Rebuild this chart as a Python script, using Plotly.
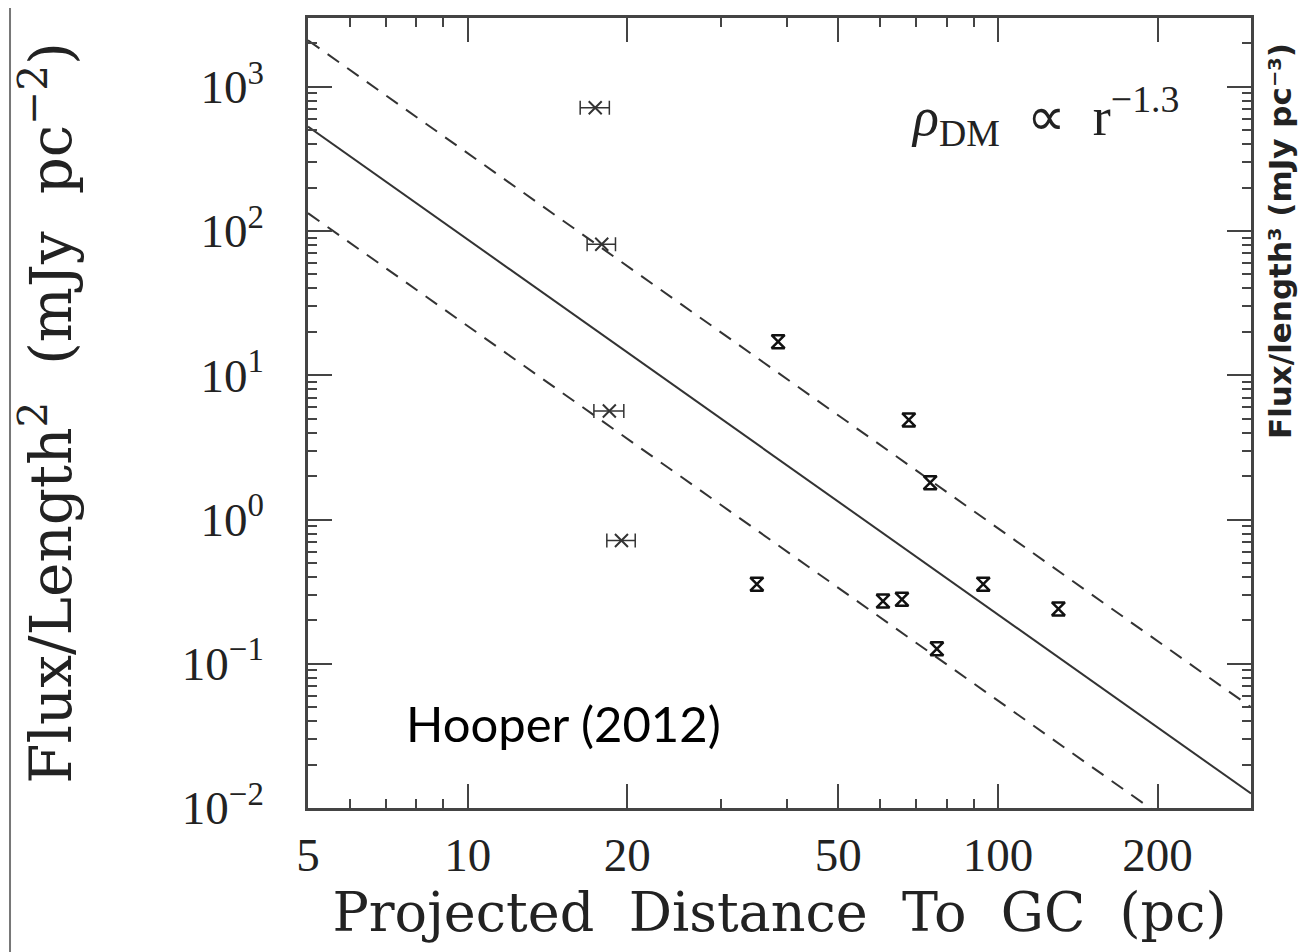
import plotly.graph_objects as go

# measured points, projected distance (pc) and flux/length^2 (mJy pc^-2)
wide_r = [17.4, 17.9, 18.5, 19.5]
wide_f = [716, 81, 5.65, 0.716]
wide_err = [1.1, 1.1, 1.2, 1.2]

narrow_r = [35.1, 38.5, 67.9, 74.5, 60.7, 65.9, 76.7, 93.8, 130]
narrow_f = [0.356, 17.1, 4.9, 1.80, 0.272, 0.28, 0.127, 0.356, 0.24]

# rho_DM ~ r^-1.3 fit line and the x4 / x0.25 band, read at the plot edges
fit_r = [5, 300]
fit_f = [530, 0.0126]
upper_f = [2100, 0.05]
lower_f = [133, 0.0032]

xtick_vals = [5, 10, 20, 50, 100, 200]
ytick_vals = [0.01, 0.1, 1, 10, 100, 1000]
ytick_text = ['10<sup>−2</sup>', '10<sup>−1</sup>', '10<sup>0</sup>',
              '10<sup>1</sup>', '10<sup>2</sup>', '10<sup>3</sup>']

ink = '#333333'
serif = 'Liberation Serif'

fig = go.Figure()
fig.add_trace(go.Scatter(x=fit_r, y=fit_f, mode='lines',
                         line=dict(color=ink, width=2)))
fig.add_trace(go.Scatter(x=fit_r, y=upper_f, mode='lines',
                         line=dict(color=ink, width=2, dash='14px,10px')))
fig.add_trace(go.Scatter(x=fit_r, y=lower_f, mode='lines',
                         line=dict(color=ink, width=2, dash='14px,10px')))
fig.add_trace(go.Scatter(
    x=wide_r, y=wide_f, mode='markers',
    marker=dict(symbol='x-thin-open', size=13, color=ink,
                line=dict(color=ink, width=2)),
    error_x=dict(type='data', array=wide_err, color=ink, thickness=1.5, width=7),
))
fig.add_trace(go.Scatter(
    x=narrow_r, y=narrow_f, mode='markers',
    marker=dict(symbol='hourglass-open', size=13, color='#111',
                line=dict(color='#111', width=2.5)),
))

axis_common = dict(
    type='log', showgrid=False, zeroline=False,
    showline=True, linecolor='#444', linewidth=2.5, mirror='allticks',
    ticks='inside', ticklen=24, tickwidth=2, tickcolor='#444',
    minor=dict(ticks='inside', ticklen=9, tickwidth=1.5, tickcolor='#444',
               dtick='D1', showgrid=False),
    tickfont=dict(family=serif, size=47, color='#222'),
)

fig.update_xaxes(
    **axis_common,
    range=[0.69897, 2.4771],
    tickvals=xtick_vals, ticktext=[str(v) for v in xtick_vals],
    ticklabelstandoff=4,
    title=dict(text='Projected  Distance  To  GC  (pc)',
               font=dict(family='DejaVu Serif', size=54, color='#222'),
               standoff=14),
)
fig.update_yaxes(
    **axis_common,
    range=[-2, 3.477],
    tickvals=ytick_vals, ticktext=ytick_text,
    ticklabelstandoff=32,
    title=dict(text='Flux/Length<sup>2</sup>  (mJy  pc<sup>−2</sup>)',
               font=dict(family='DejaVu Serif', size=58, color='#222'),
               standoff=92),
)

fig.add_annotation(
    xref='paper', yref='paper', x=0.637, y=0.876, xanchor='left', yanchor='middle',
    text='<i>ρ</i><sub>DM</sub>  ∝  r<sup>−1.3</sup>', showarrow=False,
    font=dict(family=serif, size=54, color='#222'),
)
fig.add_annotation(
    xref='paper', yref='paper', x=0.102, y=0.107, xanchor='left', yanchor='middle',
    text='Hooper (2012)', showarrow=False,
    font=dict(family='Lato', size=49, color='black'),
)
fig.add_annotation(
    xref='paper', yref='paper', x=1.031, y=0.718, xanchor='center', yanchor='middle',
    text='<b>Flux/length³ (mJy pc⁻³)</b>', textangle=-90, showarrow=False,
    font=dict(family='DejaVu Sans', size=31, color='#222'),
)
# thin frame line along the left edge of the picture
fig.add_shape(type='line', xref='paper', yref='paper',
              x0=-0.3160, x1=-0.3160, y0=-0.2, y1=1.03,
              line=dict(color='#777', width=2))

fig.update_layout(
    width=1306, height=952,
    margin=dict(l=300, r=63, t=7, b=152),
    paper_bgcolor='white', plot_bgcolor='white',
    showlegend=False,
)

fig.write_html('out.html')
